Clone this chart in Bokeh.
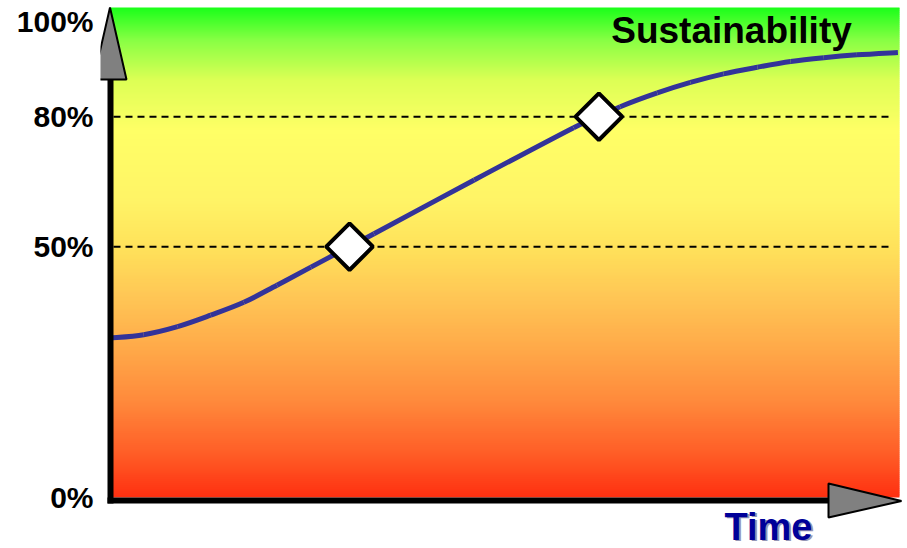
import numpy as np
from bokeh.plotting import figure
from bokeh.models import FixedTicker
from bokeh.core.properties import value
from bokeh.embed import file_html
from bokeh.resources import INLINE

# ---------------- data ----------------
time = [0, 4.2, 8.5, 12.7, 16.9, 21.1, 25.4, 30.3, 33.4, 46.1, 58.7, 61.9, 64.6,
        69.3, 73.5, 77.7, 82.0, 86.2, 90.4, 94.6, 99.8]
sustainability = [33.5, 34.2, 35.9, 38.3, 41.0, 44.6, 48.4, 52.7, 55.4, 66.7, 77.7, 80.0, 82.1,
                  85.0, 87.2, 89.0, 90.4, 91.6, 92.4, 93.0, 93.5]
milestone_time = [30.3, 61.9]
milestone_level = [52.7, 80.0]
level_ticks = [0, 52.7, 80, 100]
level_labels = ["0%", "50%", "80%", "100%"]
reference_levels = [52.7, 80.0]
title_text = "Sustainability"
x_title = "Time"

# ---------------- layout helpers (pixel -> data) ----------------
W, H = 907, 548
LEFT = 100
X0_PX, X_SCALE = 110.0, 7.89   # time 0 at x=110 px, 7.89 px per unit
Y0_PX, Y_SCALE = 497.0, 4.76   # level 0 at y=497 px, 4.76 px per %


def tx(px):
    return (px - X0_PX) / X_SCALE


def ty(py):
    return (Y0_PX - py) / Y_SCALE


p = figure(width=W, height=H, output_backend="svg", toolbar_location=None,
           x_range=(tx(LEFT), tx(W)), y_range=(ty(H), ty(0)),
           x_axis_location=None, min_border_left=LEFT, min_border_right=0,
           min_border_top=0, min_border_bottom=0)
p.outline_line_color = None
p.background_fill_color = "white"
p.border_fill_color = "white"
p.xgrid.visible = False
p.ygrid.visible = False

# ---------------- gradient background ----------------
stop_f = [0.0, 0.096, 0.198, 0.30, 0.402, 0.504, 0.606, 0.749, 0.851, 0.933, 1.0]
stop_rgb = np.array([
    (255, 48, 16), (255, 96, 40), (255, 138, 60), (255, 168, 72), (255, 196, 85),
    (255, 224, 90), (255, 244, 102), (255, 255, 102), (221, 255, 85), (136, 255, 68),
    (26, 255, 26)], dtype=float)
g_top = ty(7)
g_right = tx(899)
n = 245
h = g_top / n
bottoms = np.arange(n) * h
tops = bottoms + h * 1.6
tops[-1] = g_top
mids = (bottoms + h / 2) / g_top
cols = []
for m in mids:
    r = np.interp(m, stop_f, stop_rgb[:, 0])
    g = np.interp(m, stop_f, stop_rgb[:, 1])
    b = np.interp(m, stop_f, stop_rgb[:, 2])
    cols.append("#%02x%02x%02x" % (int(round(r)), int(round(g)), int(round(b))))
p.quad(left=0, right=g_right, bottom=bottoms, top=tops, fill_color=cols, line_color=None)

# ---------------- reference dashed lines ----------------
p.segment(x0=[tx(113)] * len(reference_levels), y0=reference_levels,
          x1=[tx(893)] * len(reference_levels), y1=reference_levels,
          line_color="black", line_width=2, line_dash="7 5")

# ---------------- curve (smooth cubic Bezier through the read points) ----------------
xs = np.array(time, dtype=float)
ys = np.array(sustainability, dtype=float)
xp = np.concatenate([[xs[0]], xs, [xs[-1]]])
yp = np.concatenate([[ys[0]], ys, [ys[-1]]])
x0s, y0s, x1s, y1s, cx0, cy0, cx1, cy1 = [], [], [], [], [], [], [], []
for i in range(len(xs) - 1):
    a, b, c, d = i, i + 1, i + 2, i + 3
    x0s.append(xp[b]); y0s.append(yp[b]); x1s.append(xp[c]); y1s.append(yp[c])
    cx0.append(xp[b] + (xp[c] - xp[a]) / 6.0); cy0.append(yp[b] + (yp[c] - yp[a]) / 6.0)
    cx1.append(xp[c] - (xp[d] - xp[b]) / 6.0); cy1.append(yp[c] - (yp[d] - yp[b]) / 6.0)
p.bezier(x0=x0s, y0=y0s, x1=x1s, y1=y1s, cx0=cx0, cy0=cy0, cx1=cx1, cy1=cy1,
         line_color="#333399", line_width=5)

p.scatter(milestone_time, milestone_level, marker="square", size=33, angle=np.pi / 4,
          fill_color="white", line_color="black", line_width=4)

# ---------------- axes lines & arrows ----------------
p.segment(x0=[0], y0=[ty(503)], x1=[0], y1=[ty(78)], line_color="black", line_width=6)
p.segment(x0=[tx(107)], y0=[ty(500)], x1=[tx(830)], y1=[ty(500)], line_color="black", line_width=6)
p.patch([tx(109.5), tx(126), tx(93)], [ty(7), ty(79), ty(79)],
        fill_color="#808080", line_color="black", line_width=2)
p.patch([tx(828), tx(901), tx(828)], [ty(483), ty(500.5), ty(517)],
        fill_color="#808080", line_color="black", line_width=2)

# ---------------- texts ----------------
p.text(x=[tx(731)], y=[ty(30)], text=[title_text], text_font=value("Liberation Sans"),
       text_font_style="bold", text_font_size="37px", text_align="center",
       text_baseline="alphabetic", text_color="black")
p.text(x=[tx(770)], y=[ty(527.5)], text=[x_title], text_font=value("Liberation Sans"),
       text_font_style="bold", text_font_size="38px", text_align="center",
       text_baseline="alphabetic", text_color="#9595b5")
p.text(x=[tx(768)], y=[ty(526)], text=[x_title], text_font=value("Liberation Sans"),
       text_font_style="bold", text_font_size="38px", text_align="center",
       text_baseline="alphabetic", text_color="#000099")

# ---------------- y axis labels ----------------
ax = p.yaxis[0]
ax.ticker = FixedTicker(ticks=level_ticks)
ax.major_label_overrides = {t: l for t, l in zip(level_ticks, level_labels)}
ax.axis_line_color = None
ax.major_tick_line_color = None
ax.minor_tick_line_color = None
ax.major_tick_out = 0
ax.major_tick_in = 0
ax.major_label_standoff = 7
ax.major_label_text_font = "Liberation Sans"
ax.major_label_text_font_size = "30px"
ax.major_label_text_font_style = "bold"
ax.major_label_text_color = "black"

open("out.html", "w").write(file_html(p, INLINE))
